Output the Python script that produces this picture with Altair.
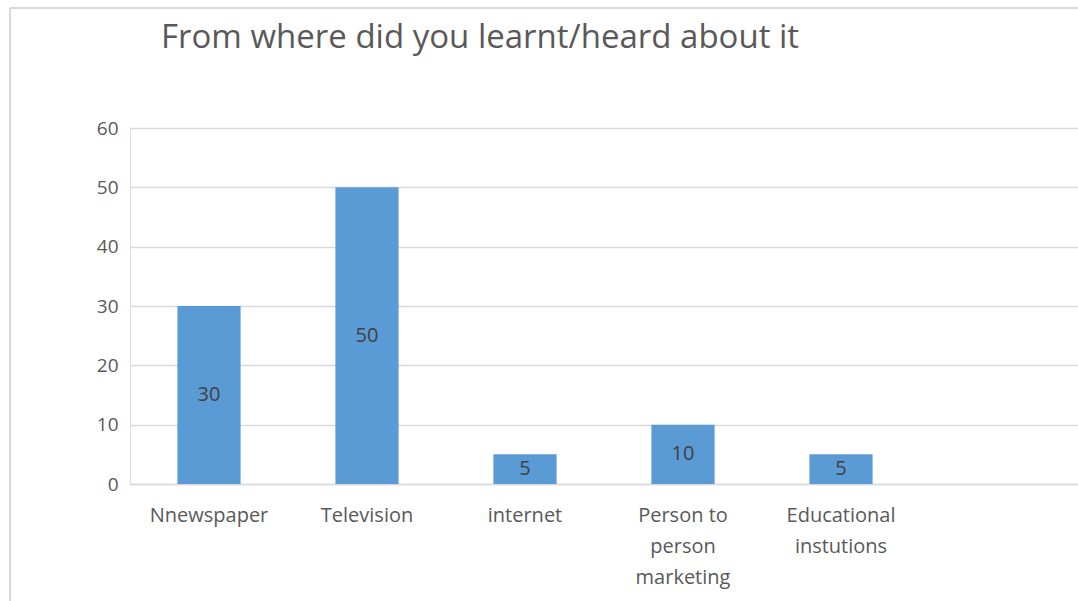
import altair as alt
import pandas as pd

categories = ["Nnewspaper", "Television", "internet", "Person to person marketing", "Educational instutions"]
values = [30, 50, 5, 10, 5]
label_lines = {
    "Nnewspaper": ["Nnewspaper"],
    "Television": ["Television"],
    "internet": ["internet"],
    "Person to person marketing": ["Person to", "person", "marketing"],
    "Educational instutions": ["Educational", "instutions"],
}
domain = categories + [" "]
title_text = "From where did you learnt/heard about it"

df = pd.DataFrame({"source": categories, "count": values})

expr_parts = []
for k, lines in label_lines.items():
    arr = "[" + ",".join("'" + l + "'" for l in lines) + "]"
    expr_parts.append(f"datum.value == '{k}' ? {arr}")
label_expr = " : ".join(expr_parts) + " : ''"

FONT = "Open Sans"
W, H = 948, 356

x_enc = alt.X("source:N", sort=domain,
              scale=alt.Scale(domain=domain, paddingInner=0.6, paddingOuter=0.3),
              axis=alt.Axis(title=None, labelAngle=0, ticks=False, domain=True,
                            domainColor="#D9D9D9", domainWidth=1.5,
                            labelExpr=label_expr, labelFont=FONT, labelFontSize=20,
                            labelColor="#595959", labelPadding=21, labelLineHeight=31,
                            labelBaseline="top"))
y_enc = alt.Y("count:Q", scale=alt.Scale(domain=[0, 60]),
              axis=alt.Axis(title=None, values=[0, 10, 20, 30, 40, 50, 60], ticks=False,
                            domain=False, gridColor="#D9D9D9", gridWidth=1.5,
                            labelFont=FONT, labelFontSize=19, labelColor="#595959",
                            labelPadding=12))

base = alt.Chart(df)
bars = base.mark_bar(color="#5B9BD5").encode(x=x_enc, y=y_enc)
labels = base.transform_calculate(mid="datum.count / 2").mark_text(
    font=FONT, fontSize=20, color="#404040", baseline="middle"
).encode(x=alt.X("source:N", sort=domain), y=alt.Y("mid:Q"), text="count:Q")

frame_top = alt.Chart(df).mark_rule(color="#D9D9D9", strokeWidth=2).encode(
    x=alt.value(-120), x2=alt.value(W), y=alt.value(-120))
frame_left = alt.Chart(df).mark_rule(color="#D9D9D9", strokeWidth=2).encode(
    x=alt.value(-120), y=alt.value(-120), y2=alt.value(H + 117))

title = alt.Chart(pd.DataFrame({"t": [title_text]})).mark_text(
    font=FONT, fontSize=33, color="#595959", align="left", baseline="alphabetic"
).encode(x=alt.value(31), y=alt.value(-80), text="t:N")

chart = alt.layer(frame_top, frame_left, bars, labels, title).properties(
    width=W, height=H,
    autosize=alt.AutoSizeParams(type="none"),
    padding={"left": 130, "top": 128, "right": 0, "bottom": 117},
).configure_view(stroke=None).configure(background="white")

chart.save("out.html", embed_options={"renderer": "svg", "actions": False})
